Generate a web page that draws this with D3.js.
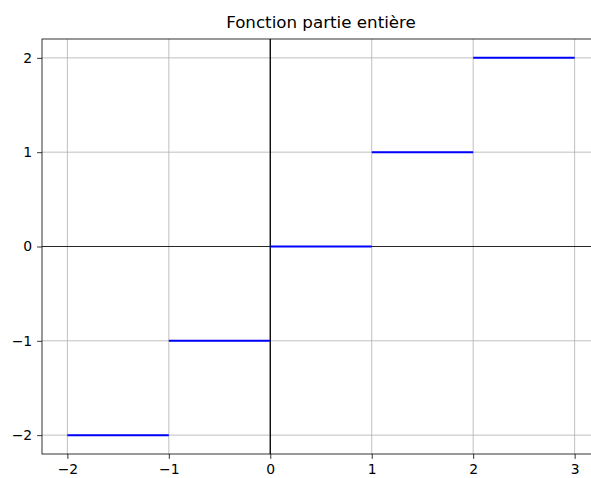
<!DOCTYPE html>
<html>
<head>
    <script src="https://cdnjs.cloudflare.com/ajax/libs/d3/7.8.5/d3.min.js"></script>
    <style>
        body { margin: 0; background: #fff; }
        svg { display: block; font-family: "DejaVu Sans", sans-serif; }
        .tick text { font-size: 13.9px; fill: #000; }
    </style>
</head>
<body>
    <svg width="591" height="478"></svg>
    <script>
        // Data: floor(x) on [k, k+1)
        const stepStarts = [-2, -1, 0, 1, 2];
        const stepValues = [-2, -1, 0, 1, 2];
        const xTicks = [-2, -1, 0, 1, 2, 3];
        const yTicks = [-2, -1, 0, 1, 2];

        const svg = d3.select("svg");
        const margin = { left: 42, top: 39, right: 600, bottom: 454 };

        const x = d3.scaleLinear().domain([-2.25, 3.25]).range([margin.left, margin.right]);
        const y = d3.scaleLinear().domain([-2.2, 2.2]).range([margin.bottom, margin.top]);

        const minus = d => d < 0 ? "\u2212" + Math.abs(d) : String(d);

        // Grid
        const grid = svg.append("g");
        grid.selectAll("line.vx")
            .data(xTicks)
            .join("line")
            .attr("x1", d => x(d)).attr("x2", d => x(d))
            .attr("y1", margin.top).attr("y2", margin.bottom)
            .attr("stroke", "#b0b0b0").attr("stroke-width", 0.8);
        grid.selectAll("line.hy")
            .data(yTicks)
            .join("line")
            .attr("x1", margin.left).attr("x2", margin.right)
            .attr("y1", d => y(d)).attr("y2", d => y(d))
            .attr("stroke", "#b0b0b0").attr("stroke-width", 0.8);

        // Reference axes through origin
        svg.append("line")
            .attr("x1", margin.left).attr("x2", margin.right)
            .attr("y1", y(0)).attr("y2", y(0))
            .attr("stroke", "#000").attr("stroke-width", 0.8);
        svg.append("line")
            .attr("x1", x(0)).attr("x2", x(0))
            .attr("y1", margin.top).attr("y2", margin.bottom)
            .attr("stroke", "#000").attr("stroke-width", 1.3);

        // Steps
        svg.append("g")
            .selectAll("line")
            .data(stepStarts)
            .join("line")
            .attr("x1", d => x(d)).attr("x2", d => x(d + 1))
            .attr("y1", (d, i) => y(stepValues[i])).attr("y2", (d, i) => y(stepValues[i]))
            .attr("stroke", "#0000ff").attr("stroke-width", 2);

        // Spines
        svg.append("rect")
            .attr("x", margin.left).attr("y", margin.top)
            .attr("width", margin.right - margin.left)
            .attr("height", margin.bottom - margin.top)
            .attr("fill", "none").attr("stroke", "#000").attr("stroke-width", 0.8);

        // Axes
        const xAxis = svg.append("g")
            .attr("transform", `translate(0,${margin.bottom})`)
            .call(d3.axisBottom(x).tickValues(xTicks).tickFormat(minus).tickSize(4.9).tickPadding(4.9));
        const yAxis = svg.append("g")
            .attr("transform", `translate(${margin.left},0)`)
            .call(d3.axisLeft(y).tickValues(yTicks).tickFormat(minus).tickSize(4.9).tickPadding(4.9));
        [xAxis, yAxis].forEach(a => {
            a.select(".domain").remove();
            a.selectAll(".tick line").attr("stroke", "#000").attr("stroke-width", 0.8);
            a.attr("font-family", null).attr("font-size", null);
        });

        // Title
        svg.append("text")
            .attr("x", (margin.left + margin.right) / 2)
            .attr("y", 28)
            .attr("text-anchor", "middle")
            .attr("font-size", "16.7px")
            .text("Fonction partie entière");
    </script>
</body>
</html>
